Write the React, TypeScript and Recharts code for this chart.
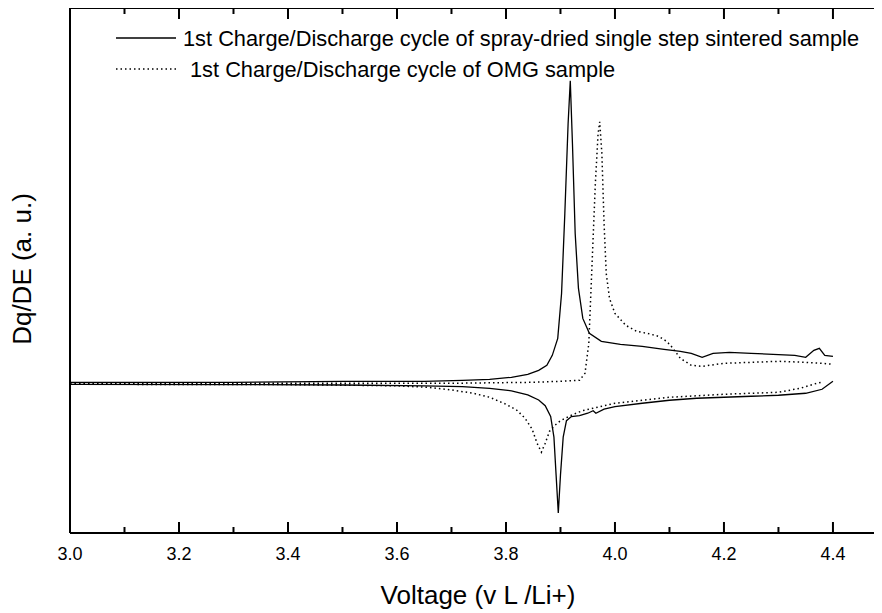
import { LineChart, Line, XAxis, YAxis } from "recharts";

// dQ/dE curves, voltage (V vs Li/Li+) and arbitrary units
const sprayChargeV = [3.0, 3.3, 3.5, 3.65, 3.72, 3.77, 3.81, 3.84, 3.86, 3.875, 3.885, 3.895, 3.902, 3.908, 3.914, 3.918, 3.922, 3.927, 3.933, 3.941, 3.953, 3.975, 4.01, 4.05, 4.09, 4.12, 4.14, 4.16, 4.18, 4.21, 4.25, 4.29, 4.33, 4.35, 4.365, 4.375, 4.385, 4.4];
const sprayChargeY = [0.01, 0.01, 0.02, 0.02, 0.03, 0.04, 0.06, 0.09, 0.13, 0.18, 0.28, 0.45, 0.9, 1.7, 2.6, 3.03, 2.4, 1.5, 0.95, 0.65, 0.5, 0.42, 0.39, 0.37, 0.34, 0.32, 0.3, 0.26, 0.3, 0.31, 0.3, 0.29, 0.28, 0.26, 0.33, 0.35, 0.28, 0.27];

const sprayDischV = [3.0, 3.3, 3.5, 3.65, 3.72, 3.77, 3.81, 3.84, 3.86, 3.872, 3.882, 3.888, 3.892, 3.896, 3.9, 3.905, 3.911, 3.92, 3.935, 3.95, 3.96, 3.965, 3.98, 4.0, 4.05, 4.1, 4.15, 4.2, 4.25, 4.3, 4.35, 4.38, 4.4];
const sprayDischY = [-0.01, -0.013, -0.017, -0.025, -0.033, -0.05, -0.075, -0.117, -0.167, -0.225, -0.333, -0.54, -0.92, -1.3, -0.92, -0.54, -0.375, -0.333, -0.325, -0.3, -0.275, -0.3, -0.26, -0.233, -0.2, -0.17, -0.15, -0.14, -0.13, -0.12, -0.1, -0.06, 0.02];

const omgChargeV = [3.0, 3.4, 3.7, 3.85, 3.9, 3.935, 3.945, 3.952, 3.958, 3.964, 3.969, 3.972, 3.976, 3.98, 3.984, 3.99, 4.0, 4.02, 4.04, 4.06, 4.08, 4.095, 4.105, 4.12, 4.14, 4.16, 4.2, 4.25, 4.3, 4.35, 4.38, 4.4];
const omgChargeY = [0.0, 0.0, 0.0, 0.01, 0.02, 0.03, 0.1, 0.4, 1.2, 2.0, 2.5, 2.62, 2.3, 1.6, 1.1, 0.85, 0.7, 0.58, 0.52, 0.5, 0.47, 0.42, 0.36, 0.25, 0.18, 0.17, 0.2, 0.21, 0.22, 0.21, 0.2, 0.19];

const omgDischV = [3.0, 3.4, 3.6, 3.66, 3.7, 3.74, 3.77, 3.8, 3.82, 3.835, 3.848, 3.857, 3.865, 3.872, 3.88, 3.89, 3.9, 3.92, 3.94, 3.96, 3.98, 4.0, 4.05, 4.1, 4.15, 4.2, 4.25, 4.3, 4.34, 4.37, 4.38];
const omgDischY = [-0.01, -0.013, -0.025, -0.042, -0.067, -0.1, -0.14, -0.21, -0.27, -0.35, -0.46, -0.6, -0.69, -0.6, -0.48, -0.42, -0.375, -0.32, -0.275, -0.25, -0.225, -0.2, -0.17, -0.14, -0.125, -0.11, -0.1, -0.09, -0.05, 0.0, 0.01];

const xTicks = [3.0, 3.1, 3.2, 3.3, 3.4, 3.5, 3.6, 3.7, 3.8, 3.9, 4.0, 4.1, 4.2, 4.3, 4.4];
const legendLabels = [
  "1st Charge/Discharge cycle of spray-dried single step sintered sample",
  "1st Charge/Discharge cycle of OMG sample",
];

const CHART_W = 874;
const PLOT_LEFT = 62;
const PLOT_TOP = 1;

const zip = (xs: number[], ys: number[]) => xs.map((v, i) => ({ v, y: ys[i] }));

const font = "'Liberation Sans', Arial, sans-serif";

const isMajor = (v: number) => Math.round(v * 10) % 2 === 0;

// bottom tick + label, and the matching inward tick on the top frame
function FrameTick(props: any) {
  const { x, y, payload, index } = props;
  const major = isMajor(payload.value);
  const len = major ? 11 : 6;
  return (
    <g>
      {index === 0 && (
        <line x1={PLOT_LEFT} x2={CHART_W} y1={PLOT_TOP} y2={PLOT_TOP} stroke="#000" strokeWidth={2} />
      )}
      <line x1={x} x2={x} y1={PLOT_TOP} y2={PLOT_TOP + len} stroke="#000" strokeWidth={2} />
      <line x1={x} x2={x} y1={y} y2={y - len} stroke="#000" strokeWidth={2} />
      {major && (
        <text x={x} y={y + 27} textAnchor="middle" fontSize={18} fontFamily={font} fill="#000">
          {payload.value.toFixed(1)}
        </text>
      )}
    </g>
  );
}

function XTitle(props: any) {
  const vb = props.viewBox;
  return (
    <text x={vb.x + vb.width / 2 + 2} y={597} textAnchor="middle" fontSize={26} fontFamily={font} fill="#000">
      Voltage (v L /Li+)
    </text>
  );
}

function YTitle() {
  return (
    <text transform="translate(23, 262) rotate(-90)" textAnchor="middle" fontSize={26} fontFamily={font} fill="#000">
      Dq/DE (a. u.)
    </text>
  );
}

// legend drawn straight into the chart svg
function LegendBox() {
  return (
    <g className="legend">
      <line x1={108} x2={168} y1={31} y2={31} stroke="#000" strokeWidth={1.3} />
      <text x={175} y={39} fontSize={21.8} fontFamily={font} fill="#000">{legendLabels[0]}</text>
      <line x1={108} x2={168} y1={62} y2={62} stroke="#000" strokeWidth={1.5} strokeDasharray="1.5 3" />
      <text x={182} y={70} fontSize={21.8} fontFamily={font} fill="#000">{legendLabels[1]}</text>
    </g>
  );
}

export default function App() {
  return (
    <div style={{ marginTop: -1 }}>
      <LineChart width={CHART_W} height={605} margin={{ top: PLOT_TOP, right: 0, bottom: 0, left: 0 }}>
        <XAxis
          type="number"
          dataKey="v"
          domain={[3.0, 4.49]}
          ticks={xTicks}
          allowDataOverflow
          height={79}
          tickSize={0}
          tickMargin={0}
          tickLine={false}
          tick={<FrameTick />}
          interval={0}
          axisLine={{ stroke: "#000", strokeWidth: 2 }}
          label={<XTitle />}
        />
        <YAxis
          type="number"
          domain={[-1.5, 3.76]}
          allowDataOverflow
          width={PLOT_LEFT}
          tick={false}
          tickLine={false}
          axisLine={{ stroke: "#000", strokeWidth: 2 }}
          label={<YTitle />}
        />
        <Line data={zip(sprayChargeV, sprayChargeY)} dataKey="y" name={legendLabels[0]} stroke="#000" strokeWidth={1.3} dot={false} isAnimationActive={false} />
        <Line data={zip(sprayDischV, sprayDischY)} dataKey="y" name="spray discharge" stroke="#000" strokeWidth={1.3} dot={false} isAnimationActive={false} />
        <Line data={zip(omgChargeV, omgChargeY)} dataKey="y" name={legendLabels[1]} stroke="#000" strokeWidth={1.5} strokeDasharray="1.5 3" dot={false} isAnimationActive={false} />
        <Line data={zip(omgDischV, omgDischY)} dataKey="y" name="OMG discharge" stroke="#000" strokeWidth={1.5} strokeDasharray="1.5 3" dot={false} isAnimationActive={false} />
        <LegendBox />
      </LineChart>
    </div>
  );
}
